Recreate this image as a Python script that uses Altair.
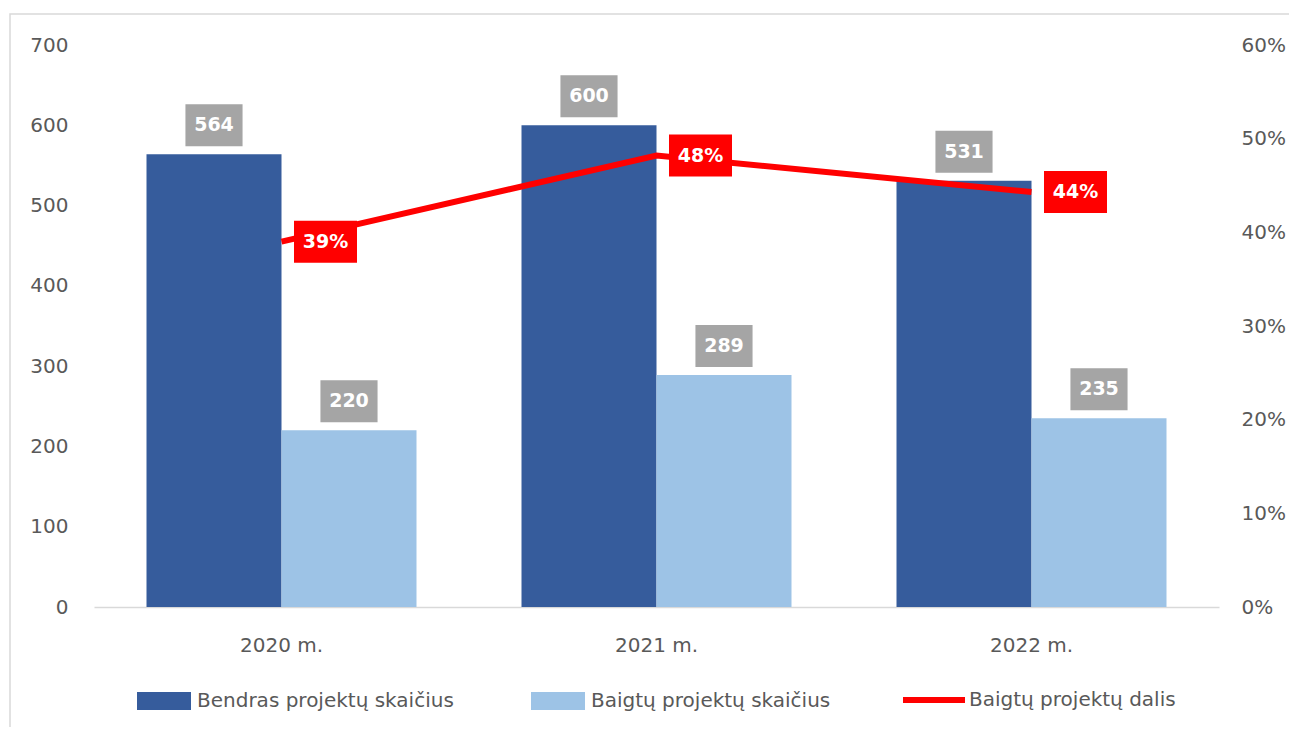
import altair as alt
import pandas as pd

years = ["2020 m.", "2021 m.", "2022 m."]
total_projects = [564, 600, 531]
finished_projects = [220, 289, 235]
finished_share = [0.39, 0.482, 0.443]
series_names = ["Bendras projektų skaičius", "Baigtų projektų skaičius"]
line_name = "Baigtų projektų dalis"
left_ticks = [0, 100, 200, 300, 400, 500, 600, 700]
right_ticks = [0, 0.1, 0.2, 0.3, 0.4, 0.5, 0.6]

bars_df = pd.DataFrame({
    "year": years * 2,
    "series": [series_names[0]] * 3 + [series_names[1]] * 3,
    "value": total_projects + finished_projects,
})
line_df = pd.DataFrame({"year": years, "share": finished_share, "series": [line_name] * 3})
frame_df = pd.DataFrame({"a": [0]})

FONT = "DejaVu Sans"
GREY_TXT = "#595959"

x_enc = alt.X(
    "year:N", sort=years,
    scale=alt.Scale(paddingInner=0.28, paddingOuter=0.14),
    axis=alt.Axis(title=None, labelAngle=0, domain=True, domainColor="#D9D9D9",
                  domainWidth=1.5, ticks=False, grid=False, labelPadding=28),
)
xoff_enc = alt.XOffset("series:N", sort=series_names,
                       scale=alt.Scale(paddingInner=0, paddingOuter=0))
y_left = alt.Y("value:Q", scale=alt.Scale(domain=[0, 700], nice=False),
               axis=alt.Axis(title=None, values=left_ticks, domain=False, ticks=False,
                             grid=False, labelPadding=26))
y_right = alt.Y("share:Q", scale=alt.Scale(domain=[0, 0.6], nice=False),
                axis=alt.Axis(title=None, orient="right", format=".0%", values=right_ticks,
                              domain=False, ticks=False, grid=False, labelPadding=22))

bars = alt.Chart(bars_df).mark_bar().encode(
    x=x_enc, xOffset=xoff_enc, y=y_left,
    color=alt.Color("series:N", sort=series_names,
                    scale=alt.Scale(domain=series_names, range=["#365C9C", "#9DC3E6"]),
                    legend=alt.Legend(title=None, orient="none", legendX=52, legendY=638,
                                      direction="horizontal", padding=0,
                                      symbolType="M-1.5,-0.5L1.5,-0.5L1.5,0.5L-1.5,0.5Z",
                                      symbolSize=1296, symbolStrokeWidth=0,
                                      labelOffset=15, columnPadding=77, labelLimit=400)),
)
box_shape = "M-1.36,-1L1.36,-1L1.36,1L-1.36,1Z"
boxes = alt.Chart(bars_df).mark_point(
    shape=box_shape, size=1764, filled=True, opacity=1, color="#A5A5A5",
    strokeWidth=0, yOffset=-29,
).encode(x=x_enc, xOffset=xoff_enc, y=y_left)
box_text = alt.Chart(bars_df).mark_text(
    color="white", fontWeight="bold", fontSize=19, font=FONT, dy=-29, baseline="middle",
).encode(x=x_enc, xOffset=xoff_enc, y=y_left, text="value:Q")

frame = alt.Chart(frame_df).mark_rect(fillOpacity=0, stroke="#D9D9D9", strokeWidth=1.5).encode(
    x=alt.value(-84), x2=alt.value(1400), y=alt.value(-31), y2=alt.value(800)
)

left = alt.layer(frame, bars, boxes, box_text)

line = alt.Chart(line_df).mark_line(strokeWidth=6, strokeCap="butt").encode(
    x=x_enc, y=y_right,
    stroke=alt.Stroke("series:N",
                      scale=alt.Scale(domain=[line_name], range=["#FF0000"]),
                      legend=alt.Legend(title=None, orient="none", legendX=806, legendY=621,
                                        padding=0, symbolType="stroke", symbolSize=3844,
                                        symbolStrokeWidth=6, labelOffset=1, labelLimit=400)),
)
red_shape = "M-1.5,-1L1.5,-1L1.5,1L-1.5,1Z"
red_boxes = alt.Chart(line_df).mark_point(
    shape=red_shape, size=1764, filled=True, opacity=1, color="#FF0000",
    strokeWidth=0, xOffset=44,
).encode(x=x_enc, y=y_right)
red_text = alt.Chart(line_df).mark_text(
    color="white", fontWeight="bold", fontSize=19, font=FONT, dx=44, baseline="middle",
).encode(x=x_enc, y=y_right, text=alt.Text("share:Q", format=".0%"))

right = alt.layer(line, red_boxes, red_text)

chart = alt.layer(left, right).resolve_scale(y="independent").properties(
    width=1125, height=562,
    padding={"left": 86, "top": 37, "right": 70, "bottom": 120},
    autosize=alt.AutoSizeParams(type="none"),
).configure_view(stroke=None).configure_axis(
    labelFont=FONT, labelFontSize=20, labelColor=GREY_TXT,
).configure_legend(
    labelFont=FONT, labelFontSize=20, labelColor=GREY_TXT,
)

chart.save("out.html", embed_options={"renderer": "svg", "actions": False})
